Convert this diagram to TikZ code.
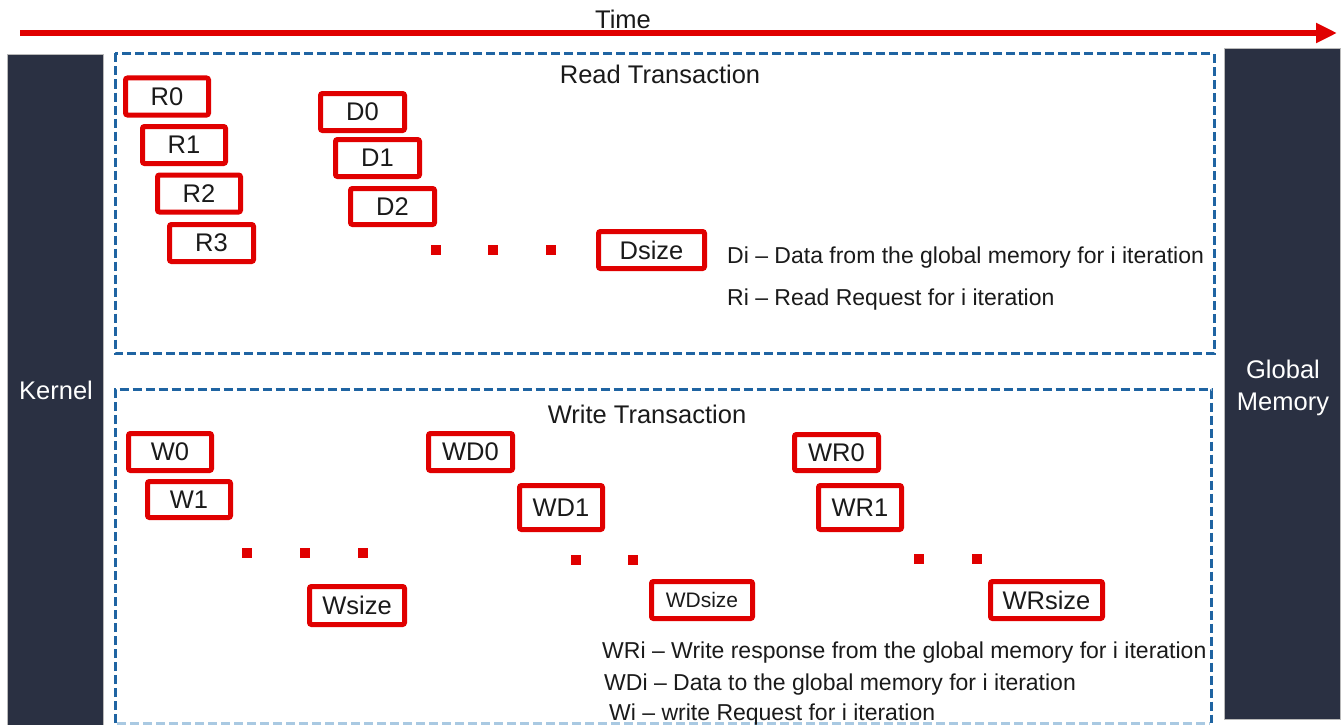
\documentclass[tikz,border=0pt]{standalone}
\usepackage{fontspec}
\setmainfont{Liberation Sans}
\usetikzlibrary{arrows.meta}
\definecolor{redc}{HTML}{E00000}
\definecolor{bluec}{HTML}{1F64A2}
\definecolor{lightb}{HTML}{A9C9E2}
\definecolor{navy}{HTML}{2A3042}
\definecolor{txt}{HTML}{1A1A1A}
\begin{document}
\begin{tikzpicture}[x=1pt,y=-1pt,
  rbox/.style={draw=redc, line width=5pt, rounded corners=2pt, inner sep=0pt,
    minimum width=83pt, minimum height=37pt, text=txt, font=\fontsize{25.5}{28}\selectfont},
  dotsq/.style={fill=redc, minimum size=10pt, inner sep=0pt},
  tbox/.style={draw=bluec, line width=3pt, dash pattern=on 9pt off 4pt},
  lbl/.style={inner sep=0pt, anchor=west, text=txt, font=\fontsize{23}{28}\selectfont},
  ttl/.style={inner sep=0pt, text=txt, font=\fontsize{25.5}{28}\selectfont},
  bar/.style={fill=navy, draw=gray!55, line width=0.8pt, inner sep=0pt},
  bartxt/.style={inner sep=0pt, text=white, align=center, font=\fontsize{25.5}{32}\selectfont}]
\useasboundingbox (0,0) rectangle (1344,725);
\fill[white] (0,0) rectangle (1344,725);

% time arrow
\node[ttl] (time) at (623,19) {Time};
\coordinate (tstart) at (20,33);
\coordinate (tend) at (1337,33);
\draw[redc, line width=6pt, -{Triangle[length=21pt,width=19pt]}] (tstart) -- (tend);

% side bars
\node[bar, minimum width=96pt, minimum height=674pt] (kernel) at (55.5,391) {};
\node[bartxt] (kernelt) at (56,390) {Kernel};
\node[bar, minimum width=116pt, minimum height=671pt] (gmem) at (1282.5,384) {};
\node[bartxt] (gmemt) at (1283,388) {Global\\Memory};

% transaction frames
\draw[tbox] (115,53.5) rectangle (1214,353.5);
\draw[tbox] (115,723) -- (115,389.5) -- (1211.5,389.5) -- (1211.5,723);
\draw[lightb, line width=3pt, dash pattern=on 9pt off 4pt] (117,723) -- (1210,723);

\node[ttl] (readt) at (660,74) {Read Transaction};
\node[ttl] (writet) at (647,414) {Write Transaction};

% read boxes
\node[rbox] (r0) at (167,96.5) {R0};
\node[rbox] (r1) at (184,145) {R1};
\node[rbox] (r2) at (199,193.5) {R2};
\node[rbox, minimum width=84pt] (r3) at (211.5,243) {R3};
\node[rbox, minimum width=84pt] (d0) at (362.5,112) {D0};
\node[rbox, minimum width=84pt] (d1) at (377.5,158) {D1};
\node[rbox, minimum width=84pt, minimum height=36pt] (d2) at (392.5,206.5) {D2};
\node[dotsq] (rd1) at (436,250) {};
\node[dotsq] (rd2) at (493,250) {};
\node[dotsq] (rd3) at (551,250) {};
\node[rbox, minimum width=106pt] (dsize) at (651.5,250) {Dsize};
\node[lbl] (legd) at (727,258) {Di – Data from the global memory for i iteration};
\node[lbl] (legr) at (727,300) {Ri – Read Request for i iteration};

% write boxes
\node[rbox] (w0) at (170,452) {W0};
\node[rbox, minimum height=36pt] (w1) at (189,499.5) {W1};
\node[dotsq] (wd1) at (247,553) {};
\node[dotsq] (wd2) at (305,553) {};
\node[dotsq] (wd3) at (363,553) {};
\node[rbox, minimum width=95pt, minimum height=38pt] (wsize) at (357,605.5) {Wsize};

\node[rbox, minimum width=84pt] (wdz) at (470.5,452) {WD0};
\node[rbox, minimum height=44pt] (wdo) at (561,507.5) {WD1};
\node[dotsq] (wdd1) at (576,560) {};
\node[dotsq] (wdd2) at (633,560) {};
\node[rbox, minimum width=101pt, font=\fontsize{21}{24}\selectfont] (wdsize) at (702,600) {WDsize};

\node[rbox, minimum width=84pt, minimum height=36pt] (wrz) at (836.5,452.5) {WR0};
\node[rbox, minimum height=44pt] (wro) at (860,507.5) {WR1};
\node[dotsq] (wrd1) at (919,559) {};
\node[dotsq] (wrd2) at (977,559) {};
\node[rbox, minimum width=112pt] (wrsize) at (1046.5,600) {WRsize};

\node[lbl] (legwr) at (602,653) {WRi – Write response from the global memory for i iteration};
\node[lbl] (legwd) at (604,685) {WDi – Data to the global memory for i iteration};
\node[lbl] (legw) at (609,715) {Wi – write Request for i iteration};
\end{tikzpicture}
\end{document}
